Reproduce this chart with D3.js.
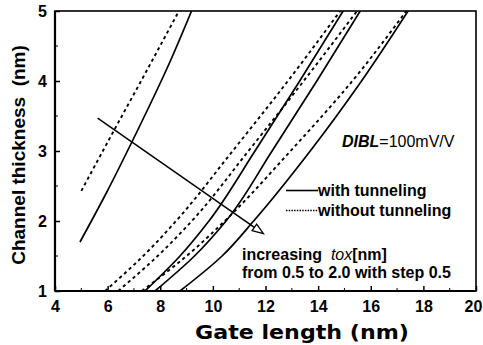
<!DOCTYPE html>
<html><head><meta charset="utf-8">
<script src="https://cdn.jsdelivr.net/npm/d3@7"></script>
<style>
html,body{margin:0;padding:0;background:#fff;}
svg{display:block;font-family:"Liberation Sans",Arial,sans-serif;}
</style></head>
<body>
<svg id="c" width="483" height="345"></svg>
<script>
// ---- data (Gate length nm, Channel thickness nm) ----
const xTicks = [4,6,8,10,12,14,16,18,20];
const yTicks = [1,2,3,4,5];
// with tunneling (solid), tox = 0.5,1.0,1.5,2.0
const solid1 = [[4.95,1.70],[5.95,2.4],[6.95,3.15],[8.4,4.3],[9.19,5.0]];
const solid2 = [[7.42,1.0],[8.75,1.5],[9.85,2.0],[11.6,3.0],[13.3,4.0],[14.95,5.0]];
const solid3 = [[7.8,1.0],[9.3,1.5],[10.5,2.0],[12.25,3.0],[13.95,4.0],[15.6,5.0]];
const solid4 = [[8.75,1.0],[10.35,1.5],[11.55,2.0],[13.7,3.0],[15.65,4.0],[17.42,5.0]];
// without tunneling (dashed)
const dash1 = [[5.0,2.43],[6.28,3.32],[7.3,4.02],[8.71,5.0]];
const dash2 = [[5.9,1.0],[7.35,1.5],[8.6,2.0],[10.75,3.0],[12.85,4.0],[14.84,5.0]];
const dash3 = [[6.4,1.0],[7.9,1.5],[9.2,2.0],[11.35,3.0],[13.45,4.0],[15.48,5.0]];
const dash4 = [[7.3,1.0],[9.0,1.5],[10.45,2.0],[12.95,3.0],[15.3,4.0],[17.35,5.0]];
const arrowFrom = [5.62,3.47];
const arrowTo = [11.92,1.82];

const svg = d3.select("#c");
const x = d3.scaleLinear().domain([4,20]).range([55,476]);
const y = d3.scaleLinear().domain([1,5]).range([291,11]);

svg.append("clipPath").attr("id","clip").append("rect")
  .attr("x",55).attr("y",11).attr("width",421).attr("height",280);

const g = svg.append("g").attr("clip-path","url(#clip)");
const line = d3.line().x(d=>x(d[0])).y(d=>y(d[1])).curve(d3.curveMonotoneY);

[solid1,solid2,solid3,solid4].forEach(s=>{
  g.append("path").attr("d",line(s)).attr("fill","none").attr("stroke","#000").attr("stroke-width",1.7);
});
[dash1,dash2,dash3,dash4].forEach(s=>{
  g.append("path").attr("d",line(s)).attr("fill","none").attr("stroke","#000").attr("stroke-width",1.9)
   .attr("stroke-dasharray","3.2,3.2");
});

// arrow
{
  const x0=x(arrowFrom[0]), y0=y(arrowFrom[1]), x1=x(arrowTo[0]), y1=y(arrowTo[1]);
  const ang=Math.atan2(y1-y0,x1-x0), L=11, W=4;
  const bx=x1-L*Math.cos(ang), by=y1-L*Math.sin(ang);
  svg.append("line").attr("x1",x0).attr("y1",y0).attr("x2",bx).attr("y2",by)
    .attr("stroke","#000").attr("stroke-width",1.5);
  const p=[[x1,y1],[bx+W*Math.sin(ang),by-W*Math.cos(ang)],[bx-W*Math.sin(ang),by+W*Math.cos(ang)]];
  svg.append("path").attr("d","M"+p.map(q=>q.join(",")).join("L")+"Z")
    .attr("fill","#fff").attr("stroke","#000").attr("stroke-width",1.3);
}

// axes
const xa = d3.axisBottom(x).tickValues(xTicks).tickSize(-5).tickPadding(10).tickFormat(d3.format("d"));
const ya = d3.axisLeft(y).tickValues(yTicks).tickSize(-5).tickPadding(8).tickFormat(d3.format("d"));
const gx = svg.append("g").attr("transform","translate(0,291)").call(xa);
const gy = svg.append("g").attr("transform","translate(55,0)").call(ya);
[gx,gy].forEach(a=>{
  a.select(".domain").remove();
  a.selectAll("line").attr("stroke","#000").attr("stroke-width",1.5);
  a.selectAll("text").attr("font-size",16).attr("font-weight","bold").attr("fill","#000")
   .attr("font-family","Liberation Sans, Arial, sans-serif");
});
gx.selectAll(".tick text").filter(d=>d===20).attr("dx",-3);
// minor ticks
const xMinor = d3.range(5,20,1).filter(v=>v%2!==0);
svg.append("g").selectAll("line").data(xMinor).join("line")
  .attr("x1",d=>x(d)).attr("x2",d=>x(d)).attr("y1",291).attr("y2",288)
  .attr("stroke","#000").attr("stroke-width",1);
const yMinor = [1.5,2.5,3.5,4.5];
svg.append("g").selectAll("line").data(yMinor).join("line")
  .attr("x1",55).attr("x2",58).attr("y1",d=>y(d)).attr("y2",d=>y(d))
  .attr("stroke","#000").attr("stroke-width",1);

// frame
svg.append("rect").attr("x",55).attr("y",11).attr("width",421).attr("height",280)
  .attr("fill","none").attr("stroke","#000").attr("stroke-width",1.6);
svg.append("line").attr("x1",55).attr("x2",55).attr("y1",11).attr("y2",291).attr("stroke","#000").attr("stroke-width",2.2);
svg.append("line").attr("x1",55).attr("x2",476).attr("y1",291).attr("y2",291).attr("stroke","#000").attr("stroke-width",2.2);

// axis titles
svg.append("text").attr("x",302).attr("y",339).attr("text-anchor","middle")
  .attr("font-family","DejaVu Sans, sans-serif")
  .attr("font-size",20).attr("font-weight","bold")
  .attr("textLength",214).attr("lengthAdjust","spacingAndGlyphs").text("Gate length (nm)");
svg.append("text").attr("transform","translate(25,155) rotate(-90)").attr("text-anchor","middle")
  .attr("font-size",19).attr("font-weight","bold").style("white-space","pre").text("Channel thickness  (nm)");

// DIBL annotation
const t1 = svg.append("text").attr("x",342).attr("y",147).attr("font-size",16);
t1.append("tspan").attr("font-style","italic").attr("font-weight","bold").text("DIBL");
t1.append("tspan").text("=100mV/V");

// legend
svg.append("line").attr("x1",286).attr("x2",318).attr("y1",190.5).attr("y2",190.5)
  .attr("stroke","#000").attr("stroke-width",1.6);
svg.append("line").attr("x1",286).attr("x2",318).attr("y1",210.5).attr("y2",210.5)
  .attr("stroke","#000").attr("stroke-width",1.3).attr("stroke-dasharray","1.5,1.2");
svg.append("text").attr("x",318).attr("y",196).attr("font-size",16).attr("font-weight","bold").text("with tunneling");
svg.append("text").attr("x",318).attr("y",216).attr("font-size",16).attr("font-weight","bold").text("without tunneling");

// increasing tox annotation
const t2 = svg.append("text").attr("x",242).attr("y",260).attr("font-size",16).attr("font-weight","bold").style("white-space","pre");
t2.append("tspan").text("increasing  ");
t2.append("tspan").attr("font-style","italic").attr("font-weight","normal").text("tox");
t2.append("tspan").text("[nm]");
svg.append("text").attr("x",242).attr("y",278).attr("font-size",16).attr("font-weight","bold")
  .text("from 0.5 to 2.0 with step 0.5");
</script>
</body></html>
